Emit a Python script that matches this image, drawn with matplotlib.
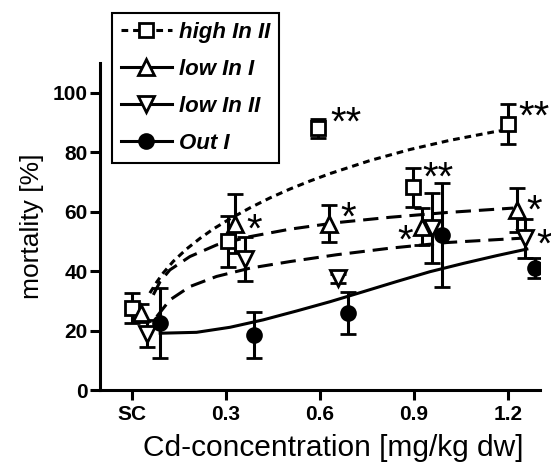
import matplotlib
matplotlib.use('Agg')
import matplotlib.pyplot as plt

plt.rcParams['font.family'] = ['Liberation Sans', 'DejaVu Sans']

# measured Cd concentration (mg/kg dw) and mortality (%) per population
high2_x = [0.0, 0.307, 0.595, 0.898, 1.201]
high2_y = [27.5, 50.0, 88.0, 68.2, 89.6]
high2_e = [5.0, 8.5, 3.3, 6.5, 6.7]

low1_x = [0.03, 0.33, 0.63, 0.925, 1.228]
low1_y = [26.0, 56.0, 56.0, 55.0, 60.6]
low1_e = [3.0, 10.0, 6.3, 6.2, 7.3]

low2_x = [0.047, 0.36, 0.658, 0.957, 1.254]
low2_y = [19.0, 44.0, 37.6, 54.5, 51.0]
low2_e = [4.5, 7.5, 1.5, 11.7, 6.5]

out1_x = [0.09, 0.389, 0.688, 0.988, 1.286]
out1_y = [22.5, 18.5, 26.0, 52.2, 41.0]
out1_e = [11.7, 7.9, 7.0, 17.6, 3.3]

# fitted curves
fit_high2_x = [0.057, 0.079, 0.100, 0.132, 0.175, 0.217, 0.260, 0.313, 0.377,
               0.440, 0.504, 0.568, 0.632, 0.760, 0.887, 1.015, 1.153, 1.19]
fit_high2_y = [32.6, 36.3, 39.4, 43.3, 47.5, 51.0, 54.2, 57.6, 61.3,
               64.6, 67.6, 70.3, 72.8, 77.2, 80.9, 84.0, 86.8, 87.4]
fit_low1_x = [0.068, 0.09, 0.121, 0.185, 0.270, 0.377, 0.504, 0.653, 0.823, 1.004, 1.217]
fit_low1_y = [32.0, 36.5, 40.4, 44.9, 48.8, 51.6, 54.1, 56.3, 58.1, 59.7, 61.2]
fit_low2_x = [0.079, 0.121, 0.185, 0.270, 0.377, 0.504, 0.653, 0.823, 1.004, 1.249]
fit_low2_y = [24.7, 30.3, 34.8, 38.2, 41.0, 43.2, 45.5, 47.7, 49.6, 51.1]
fit_out1_x = [0.090, 0.206, 0.313, 0.419, 0.526, 0.632, 0.739, 0.845, 0.951, 1.058, 1.164, 1.260]
fit_out1_y = [19.1, 19.4, 21.1, 23.6, 26.6, 29.7, 33.1, 36.5, 39.8, 42.6, 45.2, 47.4]

xticks = [0.0, 0.3, 0.6, 0.9, 1.2]
xtick_labels = ['SC', '0.3', '0.6', '0.9', '1.2']
yticks = [0, 20, 40, 60, 80, 100]

# significance marks: text, x, y
stars = [('*', 0.366, 56.1), ('**', 0.632, 92.0), ('*', 0.664, 60.0),
         ('**', 0.928, 73.5), ('*', 0.848, 52.4), ('**', 1.233, 94.0),
         ('*', 1.26, 62.3), ('*', 1.29, 51.0)]

fig = plt.figure(figsize=(5.51, 4.72), dpi=100)
ax = fig.add_axes([100 / 551, 1 - 390 / 472, 440 / 551, 327 / 472])

lw = 2.2
dotted = (0, (2.2, 1.6))
dashed = (0, (5.0, 2.6))

ax.plot(fit_high2_x, fit_high2_y, color='black', lw=lw, linestyle=dotted)
ax.plot(fit_low1_x, fit_low1_y, color='black', lw=lw, linestyle=dashed)
ax.plot(fit_low2_x, fit_low2_y, color='black', lw=lw, linestyle=dashed)
ax.plot(fit_out1_x, fit_out1_y, color='black', lw=lw, linestyle='-')

eb = dict(color='black', ecolor='black', elinewidth=lw, capsize=6, capthick=lw,
          linestyle='none', mec='black', mew=2.0)
ax.errorbar(high2_x, high2_y, yerr=high2_e, marker='s', ms=10, mfc='white', **eb)
ax.errorbar(low1_x, low1_y, yerr=low1_e, marker='^', ms=12, mfc='white', **eb)
ax.errorbar(low2_x, low2_y, yerr=low2_e, marker='v', ms=12, mfc='white', **eb)
ax.errorbar(out1_x, out1_y, yerr=out1_e, marker='o', ms=10, mfc='black', **eb)

for s, x, y in stars:
    ax.annotate(s, xy=(x, y), xytext=(0, -5), textcoords='offset points',
                ha='left', va='center', fontsize=29, annotation_clip=False)

ax.set_xlim(-0.102, 1.302)
ax.set_ylim(0, 110)
ax.set_xticks(xticks)
ax.set_xticklabels(xtick_labels)
ax.set_yticks(yticks)
for lab in ax.get_xticklabels() + ax.get_yticklabels():
    lab.set_fontweight('bold')
    lab.set_fontsize(15)
ax.tick_params(axis='both', width=lw, length=7, direction='out')
ax.tick_params(axis='x', pad=4)
ax.tick_params(axis='y', pad=2)

for side in ['top', 'right']:
    ax.spines[side].set_visible(False)
for side in ['left', 'bottom']:
    ax.spines[side].set_linewidth(lw)

ax.set_ylabel('mortality [%]', fontsize=19, labelpad=6)
ax.set_xlabel('Cd-concentration [mg/kg dw]', fontsize=21.5)
ax.xaxis.set_label_coords(0.53, -0.135)

# legend handles
h1, = ax.plot([], [], color='black', lw=lw, linestyle=dotted, marker='s', ms=10,
              mfc='white', mec='black', mew=2.0)
h2, = ax.plot([], [], color='black', lw=lw, linestyle='-', marker='^', ms=12,
              mfc='white', mec='black', mew=2.0)
h3, = ax.plot([], [], color='black', lw=lw, linestyle='-', marker='v', ms=12,
              mfc='white', mec='black', mew=2.0)
h4, = ax.plot([], [], color='black', lw=lw, linestyle='-', marker='o', ms=10,
              mfc='black', mec='black', mew=2.0)
leg = ax.legend([h1, h2, h3, h4], ['high In II', 'low In I', 'low In II', 'Out I'],
                loc='upper left', bbox_to_anchor=(112 / 551, 1 - 13 / 472),
                bbox_transform=fig.transFigure, borderaxespad=0,
                prop={'weight': 'bold', 'style': 'italic', 'size': 16},
                handlelength=2.3, handletextpad=0.3, labelspacing=0.72,
                borderpad=0.4, fancybox=False, framealpha=1, edgecolor='black')
leg.get_frame().set_linewidth(1.5)

fig.savefig('out.png', dpi=100)
